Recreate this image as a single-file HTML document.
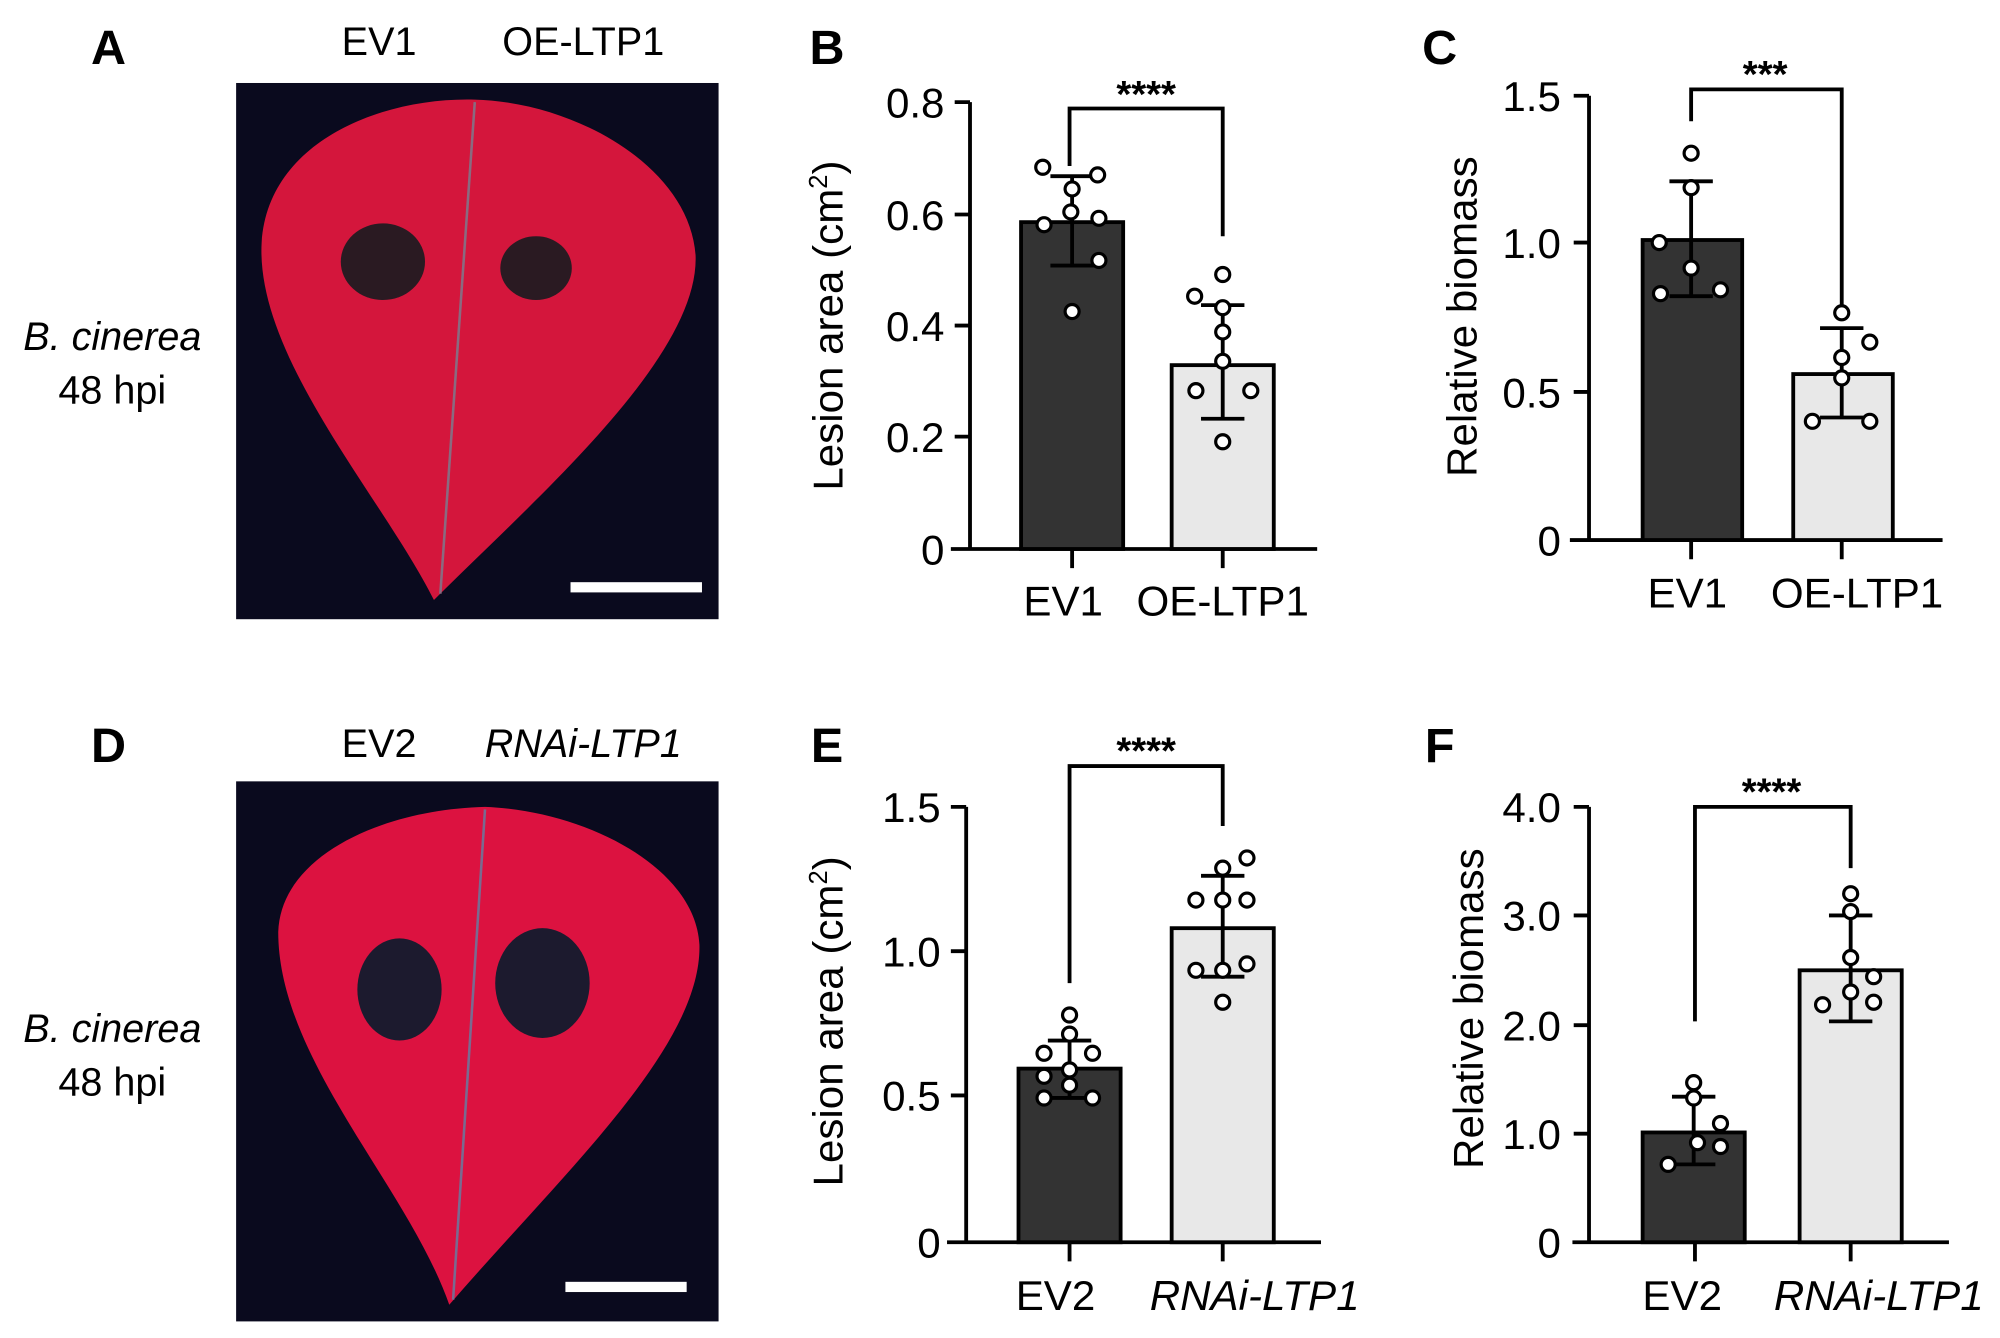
<!DOCTYPE html>
<html><head><meta charset="utf-8"><style>html,body{margin:0;padding:0;background:#fff}svg{display:block}</style></head>
<body>
<svg width="2000" height="1338" viewBox="0 0 1567 1048" preserveAspectRatio="none" xmlns="http://www.w3.org/2000/svg" font-family="Liberation Sans, Arial, sans-serif">
<rect width="1567" height="1048" fill="#fff"/>
<g font-size="38" font-weight="bold" text-anchor="middle">
<text x="85" y="50">A</text><text x="648" y="50">B</text><text x="1128" y="50">C</text>
<text x="85" y="597">D</text><text x="648" y="597">E</text><text x="1128" y="597">F</text>
</g>
<g font-size="31" text-anchor="middle">
<text x="297" y="43">EV1</text><text x="457" y="43">OE-LTP1</text>
<text x="297" y="593">EV2</text><text x="457" y="593" font-style="italic">RNAi-LTP1</text>
<text x="88" y="274" font-style="italic">B. cinerea</text><text x="88" y="316">48 hpi</text>
<text x="88" y="816" font-style="italic">B. cinerea</text><text x="88" y="858">48 hpi</text>
</g>
<!-- photo A -->
<rect x="185" y="65" width="378" height="420" fill="#0a0a1e"/>
<path d="M372,78 C450,80 540,130 545,200 C548,280 420,390 340,470 C300,390 200,280 205,190 C210,110 300,76 372,78 Z" fill="#d4163c"/>
<line x1="372" y1="80" x2="345" y2="465" stroke="#8a6a80" stroke-width="2"/>
<ellipse cx="300" cy="205" rx="33" ry="30" fill="#2a1a22"/>
<ellipse cx="420" cy="210" rx="28" ry="25" fill="#2a1a22"/>
<rect x="447" y="456" width="103" height="8" fill="#fff"/>
<!-- photo D -->
<rect x="185" y="612" width="378" height="423" fill="#0a0a1e"/>
<path d="M380,632 C460,635 545,680 548,740 C550,820 440,920 352,1022 C320,930 218,830 218,730 C220,670 300,634 380,632 Z" fill="#dc1240"/>
<line x1="380" y1="634" x2="355" y2="1018" stroke="#7a6a90" stroke-width="2"/>
<ellipse cx="313" cy="775" rx="33" ry="40" fill="#1c1a2e"/>
<ellipse cx="425" cy="770" rx="37" ry="43" fill="#1c1a2e"/>
<rect x="443" y="1004" width="95" height="8" fill="#fff"/>

<g stroke="#000" stroke-width="3" fill="none">
<path d="M760,80 V430 M745,430 H1032 M748,80 H760 M748,168 H760 M748,255 H760 M748,342 H760 M840,430 V445 M958,430 V445"/>
<path d="M1245,75 V423 M1230,423 H1522 M1233,75 H1245 M1233,190 H1245 M1233,307 H1245 M1325,423 V438 M1443,423 V438"/>
<path d="M757,632 V973 M742,973 H1035 M745,632 H757 M745,745 H757 M745,858 H757 M838,973 V988 M958,973 V988"/>
<path d="M1245,632 V973 M1232,973 H1527 M1233,632 H1245 M1233,717 H1245 M1233,803 H1245 M1233,888 H1245 M1328,973 V988 M1450,973 V988"/>
</g>
<g stroke="#000" stroke-width="3">
<rect x="800" y="174" width="80" height="256" fill="#333"/>
<rect x="918" y="286" width="80" height="144" fill="#e8e8e8"/>
<rect x="1287" y="188" width="78" height="235" fill="#333"/>
<rect x="1405" y="293" width="78" height="130" fill="#e8e8e8"/>
<rect x="798" y="837" width="80" height="136" fill="#333"/>
<rect x="918" y="727" width="80" height="246" fill="#e8e8e8"/>
<rect x="1287" y="887" width="80" height="86" fill="#333"/>
<rect x="1410" y="760" width="80" height="213" fill="#e8e8e8"/>
</g>
<g stroke="#000" stroke-width="3" fill="none">
<path d="M840,138 V208 M823,138 H857 M823,208 H857"/>
<path d="M958,239 V328 M941,239 H975 M941,328 H975"/>
<path d="M1325,142 V232 M1308,142 H1342 M1308,232 H1342"/>
<path d="M1443,257 V327 M1426,257 H1460 M1426,327 H1460"/>
<path d="M838,815 V860 M821,815 H855 M821,860 H855"/>
<path d="M958,686 V765 M941,686 H975 M941,765 H975"/>
<path d="M1327,859 V912 M1310,859 H1344 M1310,912 H1344"/>
<path d="M1450,717 V800 M1433,717 H1467 M1433,800 H1467"/>
<path d="M838,130 V85 H958 V185"/>
<path d="M1325,95 V70 H1443 V245"/>
<path d="M838,770 V600 H958 V647"/>
<path d="M1328,800 V632 H1450 V680"/>
</g>
<g fill="#fff" stroke="#000" stroke-width="2.5">
<circle cx="817" cy="131" r="5.5"/><circle cx="860" cy="137" r="5.5"/><circle cx="840" cy="148" r="5.5"/><circle cx="839" cy="166" r="5.5"/><circle cx="818" cy="176" r="5.5"/><circle cx="861" cy="171" r="5.5"/><circle cx="861" cy="204" r="5.5"/><circle cx="840" cy="244" r="5.5"/>
<circle cx="958" cy="215" r="5.5"/><circle cx="936" cy="232" r="5.5"/><circle cx="958" cy="241" r="5.5"/><circle cx="958" cy="260" r="5.5"/><circle cx="958" cy="283" r="5.5"/><circle cx="937" cy="306" r="5.5"/><circle cx="980" cy="306" r="5.5"/><circle cx="958" cy="346" r="5.5"/>
<circle cx="1325" cy="120" r="5.5"/><circle cx="1325" cy="147" r="5.5"/><circle cx="1300" cy="190" r="5.5"/><circle cx="1325" cy="210" r="5.5"/><circle cx="1301" cy="230" r="5.5"/><circle cx="1348" cy="227" r="5.5"/>
<circle cx="1443" cy="245" r="5.5"/><circle cx="1465" cy="268" r="5.5"/><circle cx="1443" cy="280" r="5.5"/><circle cx="1443" cy="296" r="5.5"/><circle cx="1420" cy="330" r="5.5"/><circle cx="1465" cy="330" r="5.5"/>
<circle cx="838" cy="795" r="5.5"/><circle cx="838" cy="810" r="5.5"/><circle cx="818" cy="825" r="5.5"/><circle cx="856" cy="825" r="5.5"/><circle cx="838" cy="838" r="5.5"/><circle cx="818" cy="843" r="5.5"/><circle cx="838" cy="850" r="5.5"/><circle cx="818" cy="860" r="5.5"/><circle cx="856" cy="860" r="5.5"/>
<circle cx="977" cy="672" r="5.5"/><circle cx="958" cy="680" r="5.5"/><circle cx="937" cy="705" r="5.5"/><circle cx="958" cy="705" r="5.5"/><circle cx="977" cy="705" r="5.5"/><circle cx="958" cy="760" r="5.5"/><circle cx="937" cy="760" r="5.5"/><circle cx="977" cy="755" r="5.5"/><circle cx="958" cy="785" r="5.5"/>
<circle cx="1327" cy="848" r="5.5"/><circle cx="1327" cy="860" r="5.5"/><circle cx="1348" cy="880" r="5.5"/><circle cx="1330" cy="895" r="5.5"/><circle cx="1348" cy="898" r="5.5"/><circle cx="1307" cy="912" r="5.5"/>
<circle cx="1450" cy="700" r="5.5"/><circle cx="1450" cy="714" r="5.5"/><circle cx="1450" cy="750" r="5.5"/><circle cx="1468" cy="765" r="5.5"/><circle cx="1450" cy="777" r="5.5"/><circle cx="1428" cy="787" r="5.5"/><circle cx="1468" cy="785" r="5.5"/>
</g>
<g font-size="33" text-anchor="end">
<text x="740" y="92">0.8</text><text x="740" y="180">0.6</text><text x="740" y="267">0.4</text><text x="740" y="354">0.2</text><text x="740" y="442">0</text>
<text x="1223" y="87">1.5</text><text x="1223" y="202">1.0</text><text x="1223" y="319">0.5</text><text x="1223" y="435">0</text>
<text x="737" y="644">1.5</text><text x="737" y="757">1.0</text><text x="737" y="870">0.5</text><text x="737" y="985">0</text>
<text x="1223" y="644">4.0</text><text x="1223" y="729">3.0</text><text x="1223" y="815">2.0</text><text x="1223" y="900">1.0</text><text x="1223" y="985">0</text>
</g>
<g font-size="33" text-anchor="middle">
<text x="833" y="482">EV1</text><text x="958" y="482">OE-LTP1</text>
<text x="1322" y="476">EV1</text><text x="1455" y="476">OE-LTP1</text>
<text x="827" y="1026">EV2</text><text x="983" y="1026" font-style="italic">RNAi-LTP1</text>
<text x="1318" y="1026">EV2</text><text x="1472" y="1026" font-style="italic">RNAi-LTP1</text>
<text x="660" y="255" transform="rotate(-90 660 255)">Lesion area (cm<tspan font-size="20" dy="-12">2</tspan><tspan dy="12">)</tspan></text>
<text x="1157" y="248" transform="rotate(-90 1157 248)">Relative biomass</text>
<text x="660" y="800" transform="rotate(-90 660 800)">Lesion area (cm<tspan font-size="20" dy="-12">2</tspan><tspan dy="12">)</tspan></text>
<text x="1162" y="790" transform="rotate(-90 1162 790)">Relative biomass</text>
</g>
<g font-size="30" font-weight="bold" text-anchor="middle">
<text x="898" y="84">****</text><text x="1383" y="68">***</text>
<text x="898" y="598">****</text><text x="1388" y="630">****</text>
</g>
</svg>
</body></html>
